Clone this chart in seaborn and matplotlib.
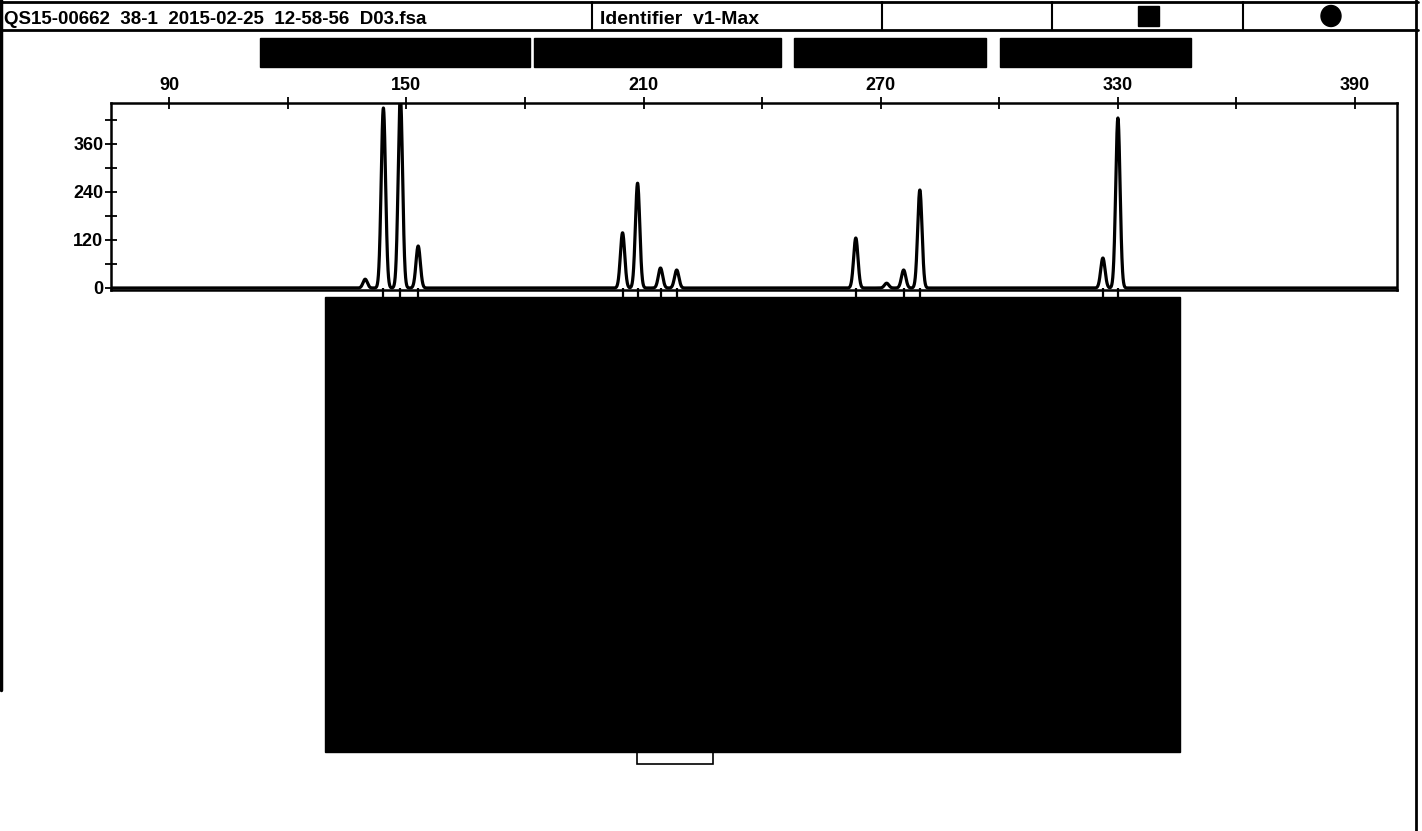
import numpy as np
import pandas as pd
import matplotlib
matplotlib.use("Agg")
import matplotlib.pyplot as plt
import seaborn as sns
from matplotlib.patches import Rectangle, Ellipse
from matplotlib.lines import Line2D

# ---------------- data ----------------
header_file = "QS15-00662  38-1  2015-02-25  12-58-56  D03.fsa"
header_panel = "Identifier  v1-Max"

peak_bp = [139.6, 144.2, 148.5, 153.0, 204.7, 208.5, 214.3, 218.4,
           263.7, 271.5, 275.8, 279.9, 326.2, 330.0]
peak_rfu = [22, 450, 480, 105, 138, 262, 50, 45,
            125, 12, 45, 245, 75, 425]
called_bp = [144.2, 148.5, 153.0, 204.7, 208.5, 214.3, 218.4,
             263.7, 275.8, 279.9, 326.2, 330.0]

x_major = [90, 150, 210, 270, 330, 390]
x_minor = [120, 180, 240, 300, 360]
y_major = [0, 120, 240, 360]
y_minor = [60, 180, 300, 420]

# ---------------- figure ----------------
W, H = 1422, 831
sns.set_theme(style="white")
plt.rcParams["font.family"] = ["Liberation Sans", "DejaVu Sans"]
plt.rcParams["font.weight"] = "bold"

fig = plt.figure(figsize=(W / 100, H / 100), dpi=100)
fig.patch.set_facecolor("white")


def fx(px):
    return px / W


def fy(py):
    return 1 - py / H


ax = fig.add_axes([fx(111), fy(290), fx(1397) - fx(111), fy(103) - fy(290)])

# trace built from the read peak list
bp = np.linspace(75, 401, 8000)
rfu = np.zeros_like(bp)
for p, h in zip(peak_bp, peak_rfu):
    rfu += h * np.exp(-0.5 * ((bp - p) / 0.55) ** 2)
trace = pd.DataFrame({"bp": bp, "rfu": rfu})
sns.lineplot(data=trace, x="bp", y="rfu", ax=ax, color="black", lw=2.3,
             sort=False, estimator=None)

# called-peak markers below the baseline
ax.vlines(called_bp, -28, 0, color="black", lw=1.6, clip_on=False)

ax.set_xlim(75.3, 400.6)
ax.set_ylim(-5, 462.5)
ax.set_xlabel("")
ax.set_ylabel("")

ax.xaxis.tick_top()
ax.set_xticks(x_major)
ax.set_xticks(x_minor, minor=True)
ax.set_xticklabels([str(v) for v in x_major], fontsize=13, fontweight="bold")
ax.set_yticks(y_major)
ax.set_yticks(y_minor, minor=True)
ax.set_yticklabels([str(v) for v in y_major], fontsize=13, fontweight="bold")
ax.tick_params(axis="both", which="both", direction="inout", length=9,
               width=1.3, color="black", labelcolor="black",
               left=True, top=True, bottom=False, right=False)
ax.tick_params(axis="x", which="major", pad=2)
ax.tick_params(axis="y", which="major", pad=1)
for s in ax.spines.values():
    s.set_color("black")
    s.set_linewidth(1.8)

# ---------------- header row ----------------
def hline(y, x0, x1, lw=2.0):
    fig.add_artist(Line2D([fx(x0), fx(x1)], [fy(y), fy(y)], color="black", lw=lw))


def vline(x, y0, y1, lw=2.0):
    fig.add_artist(Line2D([fx(x), fx(x)], [fy(y0), fy(y1)], color="black", lw=lw))


hline(2, 0, 1418)
hline(30, 0, 1418)
for xd in [592, 882, 1052, 1243]:
    vline(xd, 2, 30, lw=1.5)

fig.text(fx(4), fy(20), header_file, fontsize=13.5, fontweight="bold",
         ha="left", va="center", color="black")
fig.text(fx(600), fy(20), header_panel, fontsize=14, fontweight="bold",
         ha="left", va="center", color="black")

# status symbols
fig.add_artist(Rectangle((fx(1138), fy(26)), fx(1159) - fx(1138), fy(6) - fy(26),
                         facecolor="black", edgecolor="black"))
fig.add_artist(Ellipse((fx(1331), fy(16)), 20 / W, 21 / H,
                       facecolor="black", edgecolor="black"))

# page borders
vline(1.5, 0, 690, lw=2.5)
vline(1416, 0, 831, lw=2.0)

# redaction blocks
for x0, x1 in [(260, 530), (534, 781), (794, 986), (1000, 1191)]:
    fig.add_artist(Rectangle((fx(x0), fy(67)), fx(x1) - fx(x0), fy(38) - fy(67),
                             facecolor="black", edgecolor="black"))
fig.add_artist(Rectangle((fx(325), fy(752)), fx(1180) - fx(325), fy(297) - fy(752),
                         facecolor="black", edgecolor="black"))
fig.add_artist(Rectangle((fx(637), fy(764)), fx(713) - fx(637), fy(752) - fy(764),
                         facecolor="none", edgecolor="black", lw=1.2))

fig.savefig("out.png", dpi=100, facecolor="white")
